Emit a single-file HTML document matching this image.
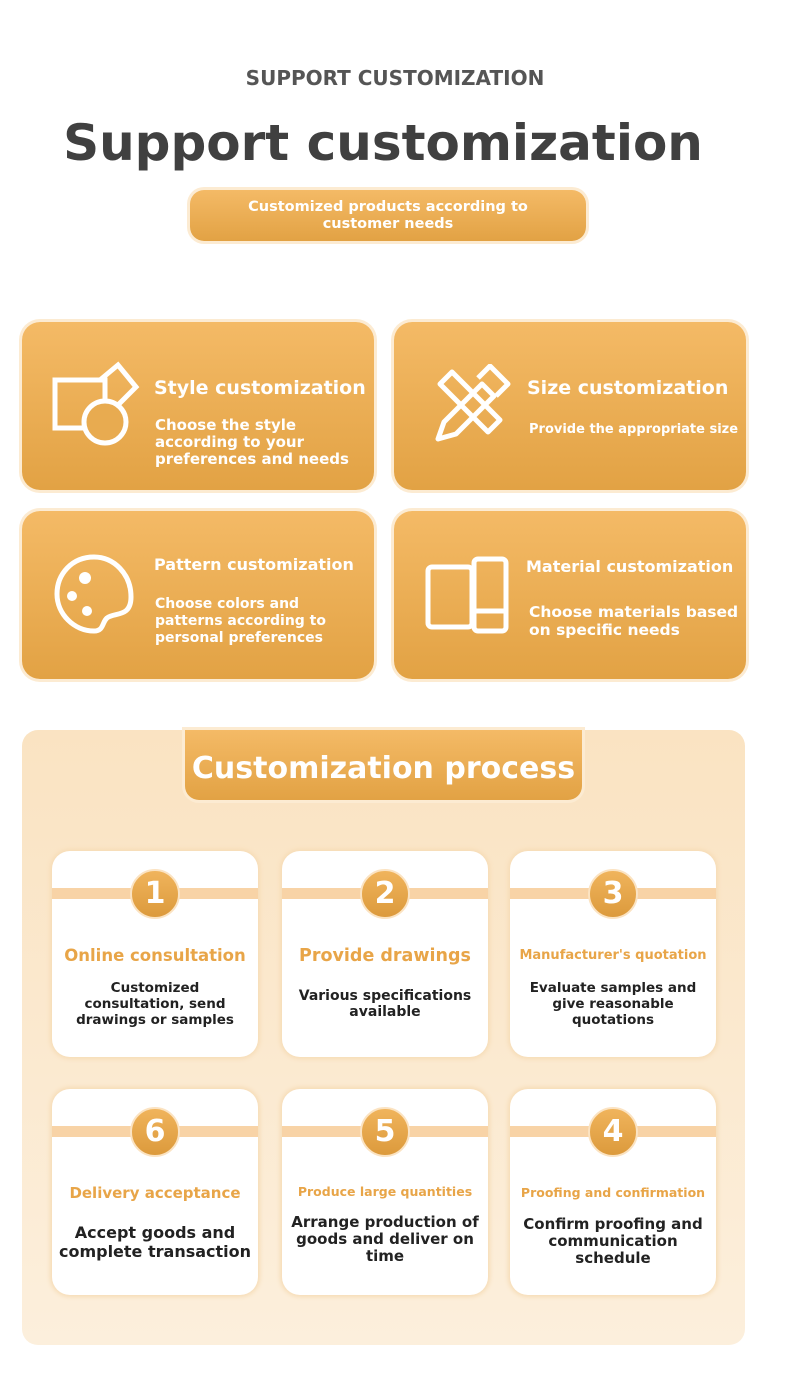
<!DOCTYPE html>
<html><head><meta charset="utf-8"><style>
*{margin:0;padding:0;box-sizing:border-box}
body{width:790px;height:1377px;background:#fff;position:relative;font-family:"DejaVu Sans","Liberation Sans",sans-serif;overflow:hidden}
.a{position:absolute;white-space:nowrap}
.t{color:#fff;font-weight:bold}
.card{position:absolute;width:352px;height:168px;border-radius:18px;background:linear-gradient(#f4ba66,#e2a244);box-shadow:0 0 0 3px #fcebd2}
.step{position:absolute;width:206px;height:206px;border-radius:18px;background:#fff;box-shadow:0 0 4px 2px #f6dcb6}
.band{position:absolute;left:0;top:37px;width:206px;height:11px;background:#f8d3a6}
.circ{position:absolute;left:78px;top:18px;width:50px;height:50px;border-radius:50%;background:linear-gradient(#f0b45c,#dc9a3c);border:2px solid #fbe3c2;color:#fff;font-weight:bold;font-size:30px;text-align:center;line-height:46px}
.h{position:absolute;left:0;width:206px;text-align:center;color:#e8a548;font-weight:bold;white-space:nowrap}
.d{position:absolute;left:0;width:206px;text-align:center;color:#222;font-weight:bold;line-height:16px;white-space:nowrap}
</style></head><body>
<div class="a" style="left:0;width:790px;top:66px;text-align:center;font-size:20px;color:#555;font-weight:bold">SUPPORT CUSTOMIZATION</div>
<div class="a" style="left:0;width:766px;top:114px;text-align:center;font-size:50px;color:#404040;font-weight:bold">Support customization</div>
<div class="a" style="left:190px;top:190px;width:396px;height:51px;border-radius:14px;background:linear-gradient(#f4ba66,#e2a244);box-shadow:0 0 0 3px #fcebd2;color:#fff;font-weight:bold;font-size:14.5px;text-align:center;line-height:17px;padding-top:9px">Customized products according to<br>customer needs</div>

<div class="card" style="left:22px;top:322px"></div>
<div class="card" style="left:394px;top:322px"></div>
<div class="card" style="left:22px;top:511px"></div>
<div class="card" style="left:394px;top:511px"></div>

<svg class="a" style="left:50px;top:360px" width="90" height="90" fill="none" stroke="#fff" stroke-width="5"><rect x="5" y="20" width="50" height="48"/><path d="M50 20 L68 5 L86 27 L68 45"/><circle cx="55" cy="62" r="21" fill="#e8ab50"/></svg>
<div class="a t" style="left:154px;top:377px;font-size:19px">Style customization</div>
<div class="a t" style="left:155px;top:417px;font-size:15px;line-height:17px">Choose the style<br>according to your<br>preferences and needs</div>

<svg class="a" style="left:432px;top:364px" width="80" height="80" fill="none" stroke="#fff" stroke-width="5" stroke-linejoin="round"><path d="M12 58 L50 20 L62 32 L24 70 L6 75 Z"/><path d="M8 20 L20 8 L68 56 L56 68 Z" /><path d="M46 14 L58 2 L76 20 L64 32"/></svg>
<div class="a t" style="left:527px;top:377px;font-size:19px">Size customization</div>
<div class="a t" style="left:529px;top:422px;font-size:13px">Provide the appropriate size</div>

<svg class="a" style="left:52px;top:552px" width="84" height="84" fill="none" stroke="#fff" stroke-width="5"><path d="M42 5 C20 5 5 22 5 42 C5 62 22 79 42 79 C52 79 50 70 55 66 C62 60 79 66 79 45 C79 22 62 5 42 5 Z"/><circle cx="33" cy="26" r="6" fill="#fff" stroke="none"/><circle cx="20" cy="44" r="5" fill="#fff" stroke="none"/><circle cx="35" cy="59" r="5" fill="#fff" stroke="none"/></svg>
<div class="a t" style="left:154px;top:555px;font-size:16px">Pattern customization</div>
<div class="a t" style="left:155px;top:596px;font-size:14px;line-height:17px">Choose colors and<br>patterns according to<br>personal preferences</div>

<svg class="a" style="left:424px;top:555px" width="86" height="80" fill="none" stroke="#fff" stroke-width="5"><rect x="4" y="12" width="44" height="60" rx="4"/><rect x="50" y="4" width="32" height="72" rx="4"/><line x1="50" y1="56" x2="82" y2="56"/></svg>
<div class="a t" style="left:526px;top:557px;font-size:16px">Material customization</div>
<div class="a t" style="left:529px;top:603px;font-size:15.5px;line-height:18px">Choose materials based<br>on specific needs</div>

<div class="a" style="left:22px;top:730px;width:723px;height:615px;border-radius:16px;background:linear-gradient(#fae3c2,#fcefdc)"></div>
<div class="a" style="left:185px;top:730px;width:397px;height:70px;border-radius:0 0 14px 14px;background:linear-gradient(#f4ba66,#e2a244);box-shadow:0 0 0 3px #fcebd2;color:#fff;font-weight:bold;font-size:30px;text-align:center;line-height:78px">Customization process</div>

<div class="step" style="left:52px;top:851px"><div class="band"></div><div class="circ">1</div>
<div class="h" style="top:95px;font-size:16.5px">Online consultation</div>
<div class="d" style="top:129px;font-size:13.5px">Customized<br>consultation, send<br>drawings or samples</div></div>
<div class="step" style="left:282px;top:851px"><div class="band"></div><div class="circ">2</div>
<div class="h" style="top:95px;font-size:17.5px">Provide drawings</div>
<div class="d" style="top:137px;font-size:14px">Various specifications<br>available</div></div>
<div class="step" style="left:510px;top:851px"><div class="band"></div><div class="circ">3</div>
<div class="h" style="top:97px;font-size:13px">Manufacturer's quotation</div>
<div class="d" style="top:129px;font-size:13.5px">Evaluate samples and<br>give reasonable<br>quotations</div></div>

<div class="step" style="left:52px;top:1089px"><div class="band"></div><div class="circ">6</div>
<div class="h" style="top:95px;font-size:15px">Delivery acceptance</div>
<div class="d" style="top:134px;font-size:16px;line-height:19px">Accept goods and<br>complete transaction</div></div>
<div class="step" style="left:282px;top:1089px"><div class="band"></div><div class="circ">5</div>
<div class="h" style="top:95px;font-size:12.5px">Produce large quantities</div>
<div class="d" style="top:125px;font-size:15px;line-height:17px">Arrange production of<br>goods and deliver on<br>time</div></div>
<div class="step" style="left:510px;top:1089px"><div class="band"></div><div class="circ">4</div>
<div class="h" style="top:96px;font-size:12.5px">Proofing and confirmation</div>
<div class="d" style="top:127px;font-size:15px;line-height:17px">Confirm proofing and<br>communication<br>schedule</div></div>
</body></html>
